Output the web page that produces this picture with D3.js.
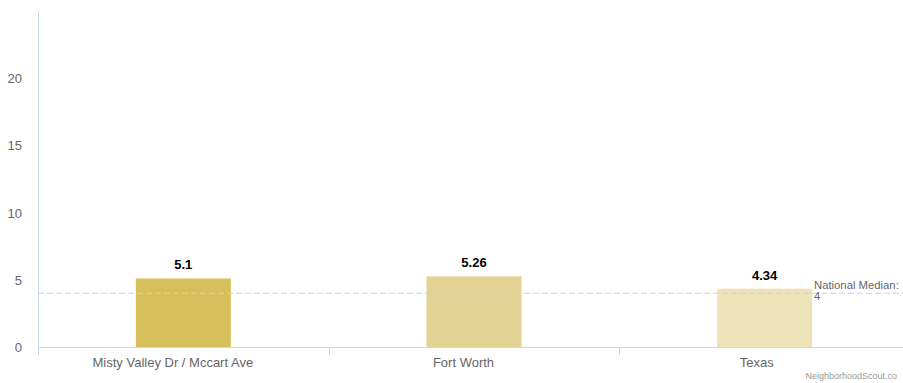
<!DOCTYPE html>
<html>
<head>
<meta charset="utf-8">
<script src="https://cdn.jsdelivr.net/npm/d3@7"></script>
<style>
  body { margin: 0; background: #fff; }
  svg { display: block; font-family: "Liberation Sans", Arial, sans-serif; }
</style>
</head>
<body>
<svg id="chart" width="903" height="383"></svg>
<script>
// Bar categories, values and colours
const categories = ["Misty Valley Dr / Mccart Ave", "Fort Worth", "Texas"];
const values = [5.1, 5.26, 4.34];
const barColors = ["#d7c05b", "#e2d293", "#ede2b8"];
const yTicks = [0, 5, 10, 15, 20];
const medianValue = 4;
const medianLabel = ["National Median:", "4"];

const svg = d3.select("#chart");
const margin = { left: 38, right: -7, top: 11, bottom: 36 };
const W = 903, H = 383;

const x = d3.scaleBand().domain(categories).range([margin.left, W - margin.right]).paddingInner(0).paddingOuter(0);
const y = d3.scaleLinear().domain([0, 25]).range([H - margin.bottom, margin.top]);

const axisColor = "#ccd6eb";

// Y axis line
svg.append("line")
  .attr("x1", margin.left + 0.5).attr("x2", margin.left + 0.5)
  .attr("y1", margin.top).attr("y2", y(0) + 8)
  .attr("stroke", axisColor);

// Y tick labels
svg.append("g").selectAll("text").data(yTicks).join("text")
  .attr("x", 22).attr("y", d => y(d) + 5)
  .attr("text-anchor", "end")
  .attr("fill", "#666").attr("font-size", 13)
  .text(d => d);

// X axis line
svg.append("line")
  .attr("x1", margin.left).attr("x2", W)
  .attr("y1", y(0) + 0.5).attr("y2", y(0) + 0.5)
  .attr("stroke", axisColor);

// Band separators
svg.append("g").selectAll("line").data(categories.slice(1)).join("line")
  .attr("x1", d => Math.round(x(d)) + 0.5).attr("x2", d => Math.round(x(d)) + 0.5)
  .attr("y1", y(0)).attr("y2", y(0) + 8)
  .attr("stroke", axisColor);

// Category labels (centred on the visible part of each band)
svg.append("g").selectAll("text").data(categories).join("text")
  .attr("x", (d, i) => x(d) + x.bandwidth() / 2 - (i === 2 ? 8 : 10.5))
  .attr("y", y(0) + 20)
  .attr("text-anchor", "middle")
  .attr("fill", "#666").attr("font-size", 13)
  .text(d => d);

// Bars
const barW = x.bandwidth() * 0.327;
svg.append("g").selectAll("rect").data(values).join("rect")
  .attr("x", (d, i) => x(categories[i]) + x.bandwidth() / 2 - barW / 2)
  .attr("y", d => y(d))
  .attr("width", barW)
  .attr("height", d => y(0) - y(d))
  .attr("fill", (d, i) => barColors[i]);

// Median line
svg.append("line")
  .attr("x1", margin.left).attr("x2", W)
  .attr("y1", y(medianValue)).attr("y2", y(medianValue))
  .attr("stroke", "#d0d0d0").attr("stroke-width", 1)
  .attr("stroke-dasharray", "6,3");

// Value labels
svg.append("g").selectAll("text").data(values).join("text")
  .attr("x", (d, i) => x(categories[i]) + x.bandwidth() / 2)
  .attr("y", d => y(d) - 9)
  .attr("text-anchor", "middle")
  .attr("fill", "#000").attr("font-size", 13).attr("font-weight", "bold")
  .text(d => d);

// Median label
svg.append("text")
  .attr("x", 814).attr("y", y(medianValue) - 4)
  .attr("fill", "#666").attr("font-size", 11.3)
  .selectAll("tspan").data(medianLabel).join("tspan")
  .attr("x", 814).attr("dy", (d, i) => i === 0 ? 0 : 11)
  .text(d => d);

// Credit
svg.append("text")
  .attr("x", 897).attr("y", 379)
  .attr("text-anchor", "end")
  .attr("fill", "#999").attr("font-size", 9)
  .text("NeighborhoodScout.co");
</script>
</body>
</html>
